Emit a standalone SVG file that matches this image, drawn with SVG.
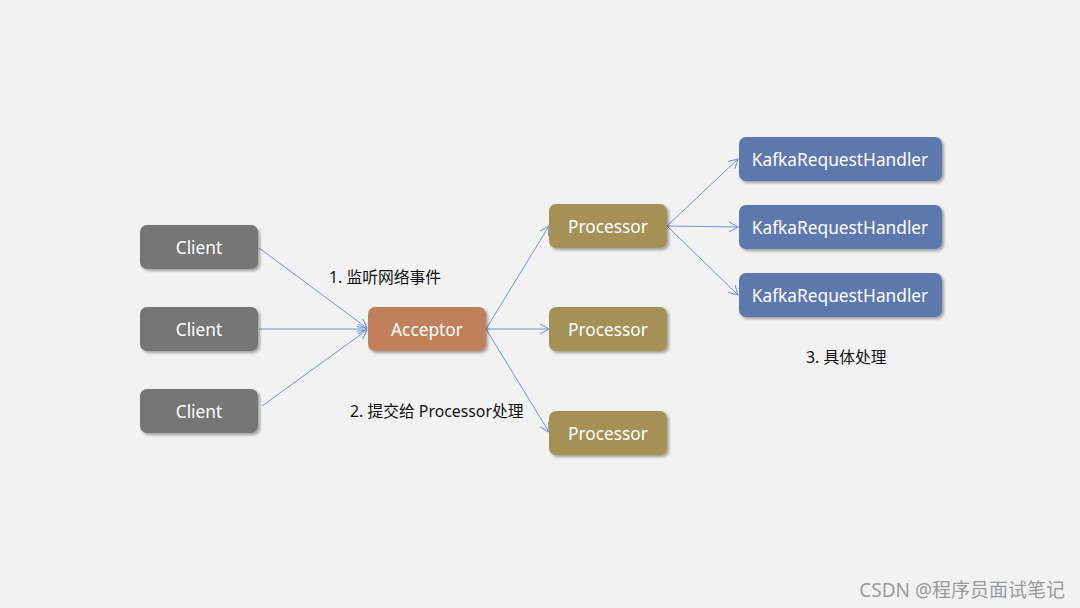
<svg xmlns="http://www.w3.org/2000/svg" width="1080" height="608" viewBox="0 0 1080 608">
<defs>
<filter id="sh" x="-10%" y="-20%" width="125%" height="150%">
<feDropShadow dx="2" dy="2" stdDeviation="1.5" flood-color="#000" flood-opacity="0.35"/>
</filter>
<marker id="ah" markerWidth="12" markerHeight="12" refX="10" refY="6" orient="auto" markerUnits="userSpaceOnUse">
<path d="M1,1 L10,6 L1,11" fill="none" stroke="#6f8fd0" stroke-width="1"/>
</marker>
<style>
.n text{font-family:"Noto Sans","Open Sans",sans-serif;font-size:17.3px;fill:#fff;text-anchor:middle;dominant-baseline:central}
.client rect{fill:#767676}
.acc rect{fill:#c0805a}
.proc rect{fill:#a59154}
.kh rect{fill:#5b78ac}
.c line{stroke:#7393d3;stroke-width:1;marker-end:url(#ah)}
.lbl{font-family:"Noto Sans","Noto Sans CJK SC",sans-serif;font-size:15.8px;fill:#111}
</style>
</defs>
<rect width="1080" height="608" fill="#f2f2f2"/>
<g class="c" id="connectors">
<line x1="259" y1="248" x2="367" y2="328"/>
<line x1="259" y1="329" x2="367" y2="329"/>
<line x1="262" y1="406" x2="367" y2="330"/>
<line x1="486" y1="329" x2="549" y2="226"/>
<line x1="486" y1="329" x2="549" y2="329"/>
<line x1="486" y1="329" x2="549" y2="432"/>
<line x1="667" y1="226" x2="738" y2="159"/>
<line x1="667" y1="226" x2="738" y2="227"/>
<line x1="667" y1="226" x2="738" y2="295"/>
</g>
<g class="n client" id="client1"><rect x="140" y="225" width="118" height="44" rx="7" filter="url(#sh)"/><text x="199" y="247">Client</text></g>
<g class="n client" id="client2"><rect x="140" y="307" width="118" height="44" rx="7" filter="url(#sh)"/><text x="199" y="329">Client</text></g>
<g class="n client" id="client3"><rect x="140" y="389" width="118" height="44" rx="7" filter="url(#sh)"/><text x="199" y="411">Client</text></g>
<g class="n acc" id="acceptor"><rect x="368" y="307" width="118" height="44" rx="7" filter="url(#sh)"/><text x="427" y="329">Acceptor</text></g>
<g class="n proc" id="processor1"><rect x="549" y="204" width="118" height="44" rx="7" filter="url(#sh)"/><text x="608" y="226">Processor</text></g>
<g class="n proc" id="processor2"><rect x="549" y="307" width="118" height="44" rx="7" filter="url(#sh)"/><text x="608" y="329">Processor</text></g>
<g class="n proc" id="processor3"><rect x="549" y="411" width="118" height="44" rx="7" filter="url(#sh)"/><text x="608" y="433">Processor</text></g>
<g class="n kh" id="handler1"><rect x="739" y="137" width="203" height="44" rx="7" filter="url(#sh)"/><text x="840" y="159">KafkaRequestHandler</text></g>
<g class="n kh" id="handler2"><rect x="739" y="205" width="203" height="44" rx="7" filter="url(#sh)"/><text x="840" y="227">KafkaRequestHandler</text></g>
<g class="n kh" id="handler3"><rect x="739" y="273" width="203" height="44" rx="7" filter="url(#sh)"/><text x="840" y="295">KafkaRequestHandler</text></g>
<text class="lbl" x="329" y="283">1. 监听网络事件</text>
<text class="lbl" x="350" y="417">2. 提交给 Processor处理</text>
<text class="lbl" x="806" y="363">3. 具体处理</text>
<text x="1065" y="597" text-anchor="end" font-family="'Noto Sans','Noto Sans CJK SC',sans-serif" font-size="19" fill="#9a9a9a">CSDN @程序员面试笔记</text>
</svg>
